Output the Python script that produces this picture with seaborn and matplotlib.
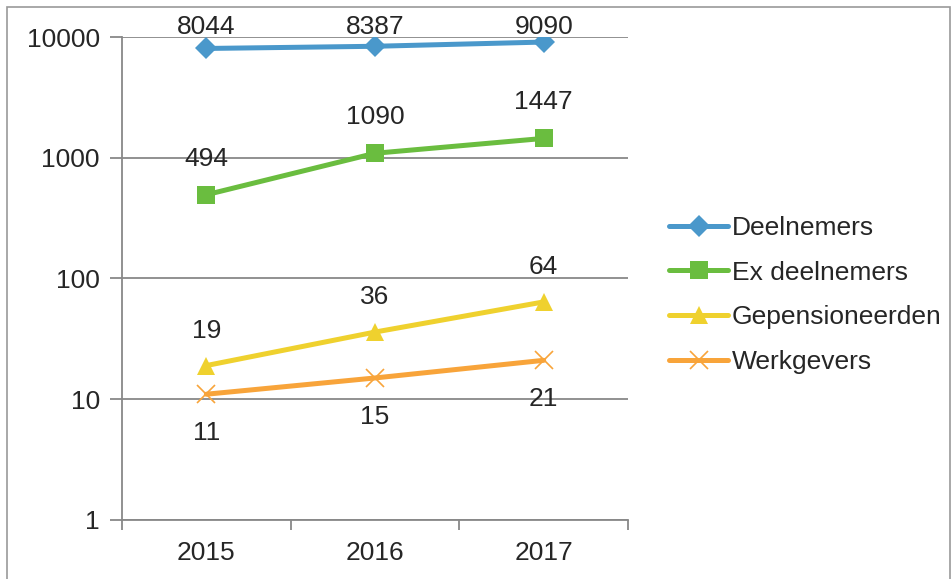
import pandas as pd
import seaborn as sns
import matplotlib.pyplot as plt
from matplotlib.patches import Rectangle

# data
years = ['2015', '2016', '2017']
deelnemers = [8044, 8387, 9090]
ex_deelnemers = [494, 1090, 1447]
gepensioneerden = [19, 36, 64]
werkgevers = [11, 15, 21]

series_names = ['Deelnemers', 'Ex deelnemers', 'Gepensioneerden', 'Werkgevers']
series_values = [deelnemers, ex_deelnemers, gepensioneerden, werkgevers]
colors = ['#4A98CB', '#6ABD3F', '#EFD12E', '#F8A43A']
markers = ['D', 's', '^', 'x']
marker_sizes = [11, 13, 13, 13]
# label offsets in points (positive = above)
label_offsets = [None, 26, 25, -28]

rows = []
for name, vals in zip(series_names, series_values):
    for i, v in enumerate(vals):
        rows.append({'pos': i, 'year': years[i], 'value': v, 'serie': name})
df = pd.DataFrame(rows)

sns.set_theme(style='white')
plt.rcParams['font.family'] = ['Liberation Sans', 'DejaVu Sans']
FS = 19

fig = plt.figure(figsize=(9.53, 5.79), dpi=100)
ax = fig.add_axes([0.128, 0.102, 0.531, 0.834])

for name, col, mk, ms in zip(series_names, colors, markers, marker_sizes):
    sub = df[df['serie'] == name]
    sns.lineplot(data=sub, x='pos', y='value', ax=ax, color=col, linewidth=3.6,
                 marker=mk, markersize=ms, markeredgecolor=col,
                 markeredgewidth=1.2 if mk == 'x' else 0, label=name)

ax.set_yscale('log')
ax.set_ylim(1, 10000)
ax.set_xlim(-0.5, 2.5)
ax.set_yticks([1, 10, 100, 1000, 10000])
ax.set_yticklabels(['1', '10', '100', '1000', '10000'])
ax.minorticks_off()
ax.set_xticks(range(len(years)))
ax.set_xticklabels(years)
ax.set_xticks([-0.5, 0.5, 1.5, 2.5], minor=True)
ax.tick_params(axis='x', which='major', length=0, pad=15, labelsize=FS)
ax.tick_params(axis='x', which='minor', length=7, width=1.3, color='#888888', direction='out', bottom=True)
ax.tick_params(axis='y', length=9, width=1.3, color='#888888', direction='out', left=True, pad=7, labelsize=FS)
ax.set_xlabel('')
ax.set_ylabel('')
ax.grid(axis='y', color='#888888', linewidth=1.3)
ax.set_axisbelow(True)
for s in ['top', 'right']:
    ax.spines[s].set_visible(False)
for s in ['left', 'bottom']:
    ax.spines[s].set_color('#888888')
    ax.spines[s].set_linewidth(1.3)

# data labels
for name, vals, off in zip(series_names, series_values, label_offsets):
    for i, v in enumerate(vals):
        if off is None:
            ax.annotate(str(v), xy=(i, 1.02), xycoords=('data', 'axes fraction'),
                        ha='center', va='center', fontsize=FS, annotation_clip=False)
        else:
            ax.annotate(str(v), xy=(i, v), xytext=(0, off), textcoords='offset points',
                        ha='center', va='center', fontsize=FS)

leg = ax.legend(loc='center left', bbox_to_anchor=(1.035, 0.466), frameon=False,
                fontsize=FS, handlelength=2.2, handletextpad=0.15, labelspacing=0.78)

# outer border of the chart area
fig.patches.append(Rectangle((0.007, -0.01), 0.99, 0.998, transform=fig.transFigure,
                             fill=False, edgecolor='#999999', linewidth=1.2))

fig.savefig('out.png', dpi=100)
